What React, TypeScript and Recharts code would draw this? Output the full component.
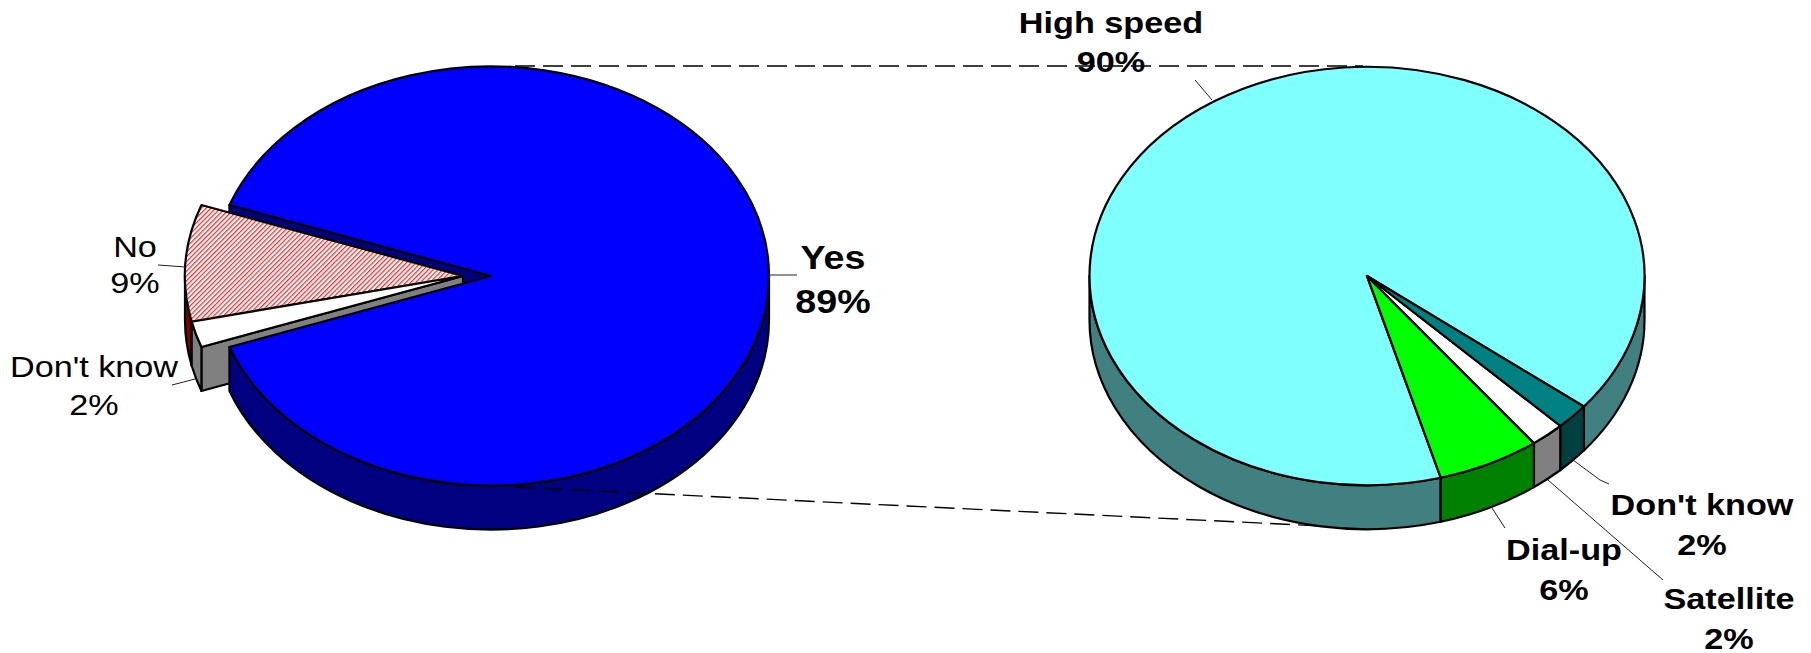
import React from 'react';
import { PieChart, Pie } from 'recharts';

const WIDTH = 1811;
const HEIGHT = 653;

// Internet access, left pie
const accessNames = ['Yes', 'No', "Don't know"];
const accessValues = [89, 9, 2];

// Type of connection, right pie
const connectionNames = ['High speed', 'Dial-up', 'Satellite', "Don't know"];
const connectionValues = [90, 6, 2, 2];

const accessData = accessNames.map((name, i) => ({ name, value: accessValues[i] }));
const connectionData = connectionNames.map((name, i) => ({ name, value: connectionValues[i] }));

const accessTops = ['#0000FF', 'url(#noHatch)', '#FFFFFF'];
const accessSides = ['#000080', '#800000', '#808080'];
const connectionTops = ['#80FFFF', '#00FF00', '#FFFFFF', '#008080'];
const connectionSides = ['#408080', '#008000', '#808080', '#004040'];

const TILT = 0.754;
const DEPTH = 44;
const PULL_OUT = 28;

const LEFT = { cx: 491, cy: 276, r: 278 };
const RIGHT = { cx: 1367, cy: 276, r: 277.5 };

// horizontal stretch of the label text
const TEXT_STRETCH = 1.14;

const rad = (deg: number) => (deg * Math.PI) / 180;
const rimX = (cx: number, r: number, a: number) => cx + r * Math.cos(rad(a));
const rimY = (cy: number, r: number, a: number) => cy - r * TILT * Math.sin(rad(a));

const topPath = (cx: number, cy: number, r: number, s: number, e: number) => {
  const large = e - s > 180 ? 1 : 0;
  return `M${cx},${cy} L${rimX(cx, r, s)},${rimY(cy, r, s)} A${r},${r * TILT} 0 ${large} 0 ${rimX(cx, r, e)},${rimY(cy, r, e)} Z`;
};

// outer wall, only the part of the sector on the front half of the pie
const wallPaths = (cx: number, cy: number, r: number, s: number, e: number) => {
  const paths: string[] = [];
  for (const k of [-1, 0, 1]) {
    const lo = Math.max(s, 180 + 360 * k);
    const hi = Math.min(e, 360 + 360 * k);
    if (hi <= lo) continue;
    const ry = r * TILT;
    paths.push(
      `M${rimX(cx, r, lo)},${rimY(cy, r, lo)} A${r},${ry} 0 0 0 ${rimX(cx, r, hi)},${rimY(cy, r, hi)} ` +
        `L${rimX(cx, r, hi)},${rimY(cy, r, hi) + DEPTH} A${r},${ry} 0 0 1 ${rimX(cx, r, lo)},${rimY(cy, r, lo) + DEPTH} Z`
    );
  }
  return paths;
};

const pullOut = (name: string, pulled: string[]) => (pulled.includes(name) ? PULL_OUT : 0);

const topShape = (fills: string[], names: string[], pulled: string[] = []) => (props: any) => {
  const cx = props.cx - pullOut(names[props.index], pulled);
  return (
    <path
      d={topPath(cx, props.cy, props.outerRadius, props.startAngle, props.endAngle)}
      fill={fills[props.index]}
      stroke="#000"
      strokeWidth={2.2}
      strokeLinejoin="round"
    />
  );
};

const wallShape = (fills: string[], names: string[], pulled: string[] = []) => (props: any) => {
  const cx = props.cx - pullOut(names[props.index], pulled);
  return (
    <g>
      {wallPaths(cx, props.cy, props.outerRadius, props.startAngle, props.endAngle).map((d, i) => (
        <path key={i} d={d} fill={fills[props.index]} stroke="#000" strokeWidth={2.2} strokeLinejoin="round" />
      ))}
    </g>
  );
};

// the cut face seen through the gap left by the pulled-out slices
const cutShape = (fills: string[], names: string[], pulled: string[] = []) => (props: any) => {
  const cx = props.cx - pullOut(names[props.index], pulled);
  const x = rimX(cx, props.outerRadius, props.endAngle);
  const y = rimY(props.cy, props.outerRadius, props.endAngle);
  const d = `M${cx},${props.cy} L${x},${y} L${x},${y + DEPTH} L${cx},${props.cy + DEPTH} Z`;
  return <path d={d} fill={fills[props.index]} stroke="#000" strokeWidth={2.2} strokeLinejoin="round" />;
};

const accessLabels = [
  { x: 833, y1: 269, y2: 313, size: 33, bold: true, line: [[768, 275], [797, 275]] },
  { x: 135, y1: 257, y2: 293, size: 30, bold: false, line: [[158, 265], [172, 266], [185, 267]] },
  { x: 94, y1: 377, y2: 415, size: 30, bold: false, line: [[172, 385], [195, 379]] },
];
const connectionLabels = [
  { x: 1111, y1: 33, y2: 72, size: 30, bold: true, line: [[1195, 80], [1212, 100]] },
  { x: 1564, y1: 560, y2: 600, size: 30, bold: true, line: [[1492, 508], [1505, 528]] },
  { x: 1729, y1: 609, y2: 649, size: 30, bold: true, line: [[1548, 480], [1663, 580]] },
  { x: 1702, y1: 515, y2: 555, size: 30, bold: true, line: [[1573, 460], [1600, 480], [1609, 484]] },
];

const labelText = (x: number, y: number, text: string, size: number, bold: boolean) => (
  <text
    transform={`translate(${x},${y}) scale(${TEXT_STRETCH},1)`}
    textAnchor="middle"
    fontFamily="'Liberation Sans', Arial, sans-serif"
    fontSize={size}
    fontWeight={bold ? 700 : 400}
    fill="#000"
  >
    {text}
  </text>
);

const sliceLabel = (spots: typeof accessLabels, names: string[], values: number[]) => (props: any) => {
  const spot = spots[props.index];
  return (
    <g>
      <polyline points={spot.line.map((p) => p.join(',')).join(' ')} fill="none" stroke="#222" strokeWidth={1} />
      {labelText(spot.x, spot.y1, names[props.index], spot.size, spot.bold)}
      {labelText(spot.x, spot.y2, `${values[props.index]}%`, spot.size, spot.bold)}
    </g>
  );
};

const layer: React.CSSProperties = { position: 'absolute', left: 0, top: 0 };
const noMargin = { top: 0, right: 0, bottom: 0, left: 0 };

export default function App() {
  const pulled = ['No', "Don't know"];
  return (
    <div style={{ position: 'fixed', left: 0, top: 0, width: WIDTH, height: HEIGHT, background: '#fff' }}>
      <div style={layer}>
        <PieChart width={WIDTH} height={HEIGHT} margin={noMargin}>
          <defs>
            <pattern id="noHatch" patternUnits="userSpaceOnUse" width={3.4} height={3.4} patternTransform="rotate(45)">
              <rect width={3.4} height={3.4} fill="#fff" />
              <line x1={0.6} y1={0} x2={0.6} y2={3.4} stroke="#FF2020" strokeWidth={1.2} />
            </pattern>
          </defs>
          <Pie data={accessData} dataKey="value" cx={LEFT.cx} cy={LEFT.cy} outerRadius={LEFT.r} startAngle={-160.2} endAngle={199.8}
            isAnimationActive={false} shape={cutShape(accessSides, accessNames, pulled)} />
          <Pie data={accessData} dataKey="value" cx={LEFT.cx} cy={LEFT.cy} outerRadius={LEFT.r} startAngle={-160.2} endAngle={199.8}
            isAnimationActive={false} shape={wallShape(accessSides, accessNames, pulled)} />
          <Pie data={accessData} dataKey="value" cx={LEFT.cx} cy={LEFT.cy} outerRadius={LEFT.r} startAngle={-160.2} endAngle={199.8}
            isAnimationActive={false} shape={topShape(accessTops, accessNames, pulled)}
            label={sliceLabel(accessLabels, accessNames, accessValues)} labelLine={false} />
        </PieChart>
      </div>

      {/* dashed lines tying the breakdown pie to the left one, over its wall and under the right pie */}
      <svg width={WIDTH} height={HEIGHT} style={layer}>
        <g stroke="#000" strokeWidth={1.4} strokeDasharray="20 8" fill="none">
          <line x1={515} y1={66} x2={1363} y2={66} />
          <line x1={515} y1={487} x2={1363} y2={528} />
        </g>
      </svg>

      <div style={layer}>
        <PieChart width={WIDTH} height={HEIGHT} margin={noMargin}>
          <Pie data={connectionData} dataKey="value" cx={RIGHT.cx} cy={RIGHT.cy} outerRadius={RIGHT.r} startAngle={-38.6} endAngle={321.4}
            isAnimationActive={false} shape={wallShape(connectionSides, connectionNames)} />
          <Pie data={connectionData} dataKey="value" cx={RIGHT.cx} cy={RIGHT.cy} outerRadius={RIGHT.r} startAngle={-38.6} endAngle={321.4}
            isAnimationActive={false} shape={topShape(connectionTops, connectionNames)}
            label={sliceLabel(connectionLabels, connectionNames, connectionValues)} labelLine={false} />
        </PieChart>
      </div>
    </div>
  );
}
